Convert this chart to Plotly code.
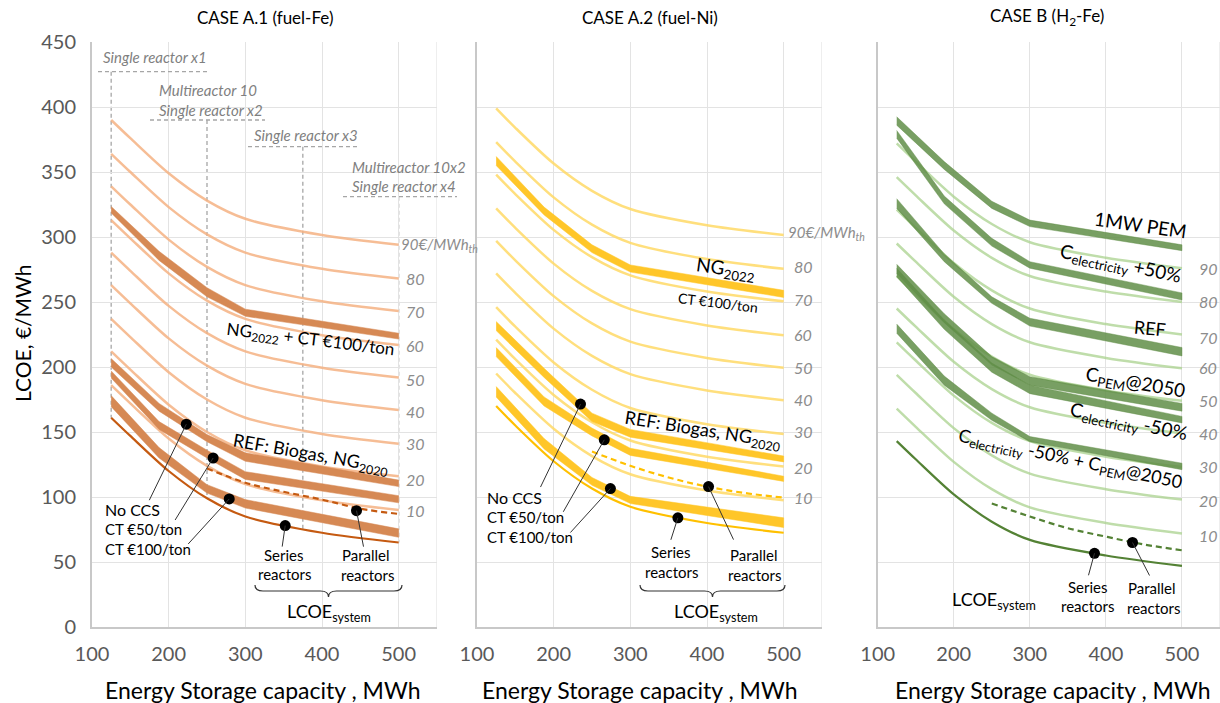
import plotly.graph_objects as go

W, H = 1220, 703

# ---------------- data ----------------
X_THIN = [125, 150, 200, 250, 300, 400, 500]
X_BAND = [125, 187.5, 250, 300, 500]
X_DASH = [250, 300, 350, 400, 450, 500]
FUEL_LEVELS = [10, 20, 30, 40, 50, 60, 70, 80, 90]
X_TICKS = [100, 200, 300, 400, 500]
Y_TICKS = [0, 50, 100, 150, 200, 250, 300, 350, 400, 450]

# CASE A.1 (fuel-Fe)
A1_SERIES = [161, 147, 120, 99, 85, 72.5, 65]
A1_FUEL = [
    [186, 172, 145, 124, 110, 97.5, 90],
    [212, 198, 171, 150, 136, 123.5, 116],
    [237, 223, 196, 175, 161, 148.5, 141],
    [263, 249, 222, 201, 187, 174.5, 167],
    [288, 274, 247, 226, 212, 199.5, 192],
    [313, 299, 272, 251, 237, 224.5, 217],
    [339, 325, 298, 277, 263, 250.5, 243],
    [364, 350, 323, 302, 288, 275.5, 268],
    [390, 376, 349, 328, 314, 301.5, 294],
]
A1_NG2022_UP = [323.5, 289, 261, 244.5, 226]
A1_NG2022_LO = [318.5, 282, 254, 239, 221.5]
A1_NOCCS_UP = [206.5, 172, 148, 134, 113]
A1_NOCCS_LO = [200, 166, 142.5, 127.5, 108]
A1_CT50_UP = [197, 158, 136, 119.5, 101]
A1_CT50_LO = [191.5, 152, 130, 113.5, 95.5]
A1_CT100_UP = [178, 138, 109.5, 98, 75.5]
A1_CT100_LO = [169.5, 130, 103, 91.5, 69]
A1_PARALLEL = [122, 111, 104, 98, 91, 87]
A1_DOT_X = [223, 258, 279, 352, 445]
A1_DOT_Y = [156, 130, 98.5, 78, 89.5]
A1_REF_X = [125, 250, 375, 500]
A1_REF_BOTTOM = [161, 99, 74, 65]

# CASE A.2 (fuel-Ni)
A2_SERIES = [170, 155, 127.5, 106.5, 92.5, 80, 72.5]
A2_FUEL = [
    [195, 180, 152.5, 131.5, 117.5, 105, 97.5],
    [221, 206, 178.5, 157.5, 143.5, 131, 123.5],
    [246, 231, 203.5, 182.5, 168.5, 156, 148.5],
    [272, 257, 229.5, 208.5, 194.5, 182, 174.5],
    [297, 282, 254.5, 233.5, 219.5, 207, 199.5],
    [322, 307, 279.5, 258.5, 244.5, 232, 224.5],
    [348, 333, 305.5, 284.5, 270.5, 258, 250.5],
    [373, 358, 330.5, 309.5, 295.5, 283, 275.5],
    [399, 384, 356.5, 335.5, 321.5, 309, 301.5],
]
A2_NG2022_UP = [362, 323, 294, 278.5, 259]
A2_NG2022_LO = [355, 317, 288, 273, 253.5]
A2_NOCCS_UP = [235, 199, 164.5, 152, 131.5]
A2_NOCCS_LO = [228, 192, 158, 146, 127]
A2_CT50_UP = [215, 177, 153, 137.5, 116]
A2_CT50_LO = [208, 170, 147, 132, 112]
A2_CT100_UP = [185, 145, 115, 100.5, 84]
A2_CT100_LO = [177, 137, 109, 95, 76.5]
A2_PARALLEL = [135, 124, 115, 108, 103, 99.5]
A2_DOT_X = [235, 266, 274, 362, 402]
A2_DOT_Y = [171.5, 144, 106.5, 84, 108]

# CASE B (H2-Fe)
B_SERIES = [143, 129, 102, 81, 67, 55, 47]
B_FUEL = [
    [168, 154, 127, 106, 92, 80, 72],
    [194, 180, 153, 132, 118, 106, 98],
    [219, 205, 178, 157, 143, 131, 123],
    [245, 231, 204, 183, 169, 157, 149],
    [270, 256, 229, 208, 194, 182, 174],
    [295, 281, 254, 233, 219, 207, 199],
    [321, 307, 280, 259, 245, 233, 225],
    [346, 332, 305, 284, 270, 258, 250],
    [372, 358, 331, 310, 296, 284, 276],
]
B_PEM1MW_UP = [392.5, 358, 327.5, 313, 294]
B_PEM1MW_LO = [386, 352, 322, 308, 289.5]
B_ELEC_P50_UP = [382, 331.5, 299, 281, 257]
B_ELEC_P50_LO = [376, 325.5, 293, 276, 251.5]
B_REF_UP = [329.5, 287, 254, 237.5, 215]
B_REF_LO = [322, 281, 249, 231.5, 208.5]
B_PEM2050_UP = [279, 241, 208, 192.5, 172]
B_PEM2050_LO = [272, 234, 201.5, 186, 166]
B_ELEC_M50_UP = [276, 236, 203, 186, 162]
B_ELEC_M50_LO = [269.5, 229, 196, 179.5, 157]
B_COMBO_UP = [233, 193, 164.5, 146.5, 126]
B_COMBO_LO = [226, 186, 159, 142.5, 121]
B_PARALLEL = [95, 85, 76, 69.5, 63.5, 59]
B_DOT_X = [385, 435]
B_DOT_Y = [56.7, 65]

FONT = "Lato"

# plot-area geometry (pixels)
Y_TOP_PX, Y_BOT_PX = 42, 627
PANEL_PX = [(92, 437), (477, 822), (877.7, 1220)]
X_MAX = 550


def X(p):
    return p / W


def Y(p):
    return 1 - p / H


fig = go.Figure()


def thin_lines(xa, ya, fuel, color):
    for vals in fuel:
        fig.add_trace(go.Scatter(x=X_THIN, y=vals, mode="lines", xaxis=xa, yaxis=ya,
                                 line=dict(color=color, width=2.5, shape="spline", smoothing=0.8),
                                 hoverinfo="skip", showlegend=False))


def band(xa, ya, up, lo, color):
    fig.add_trace(go.Scatter(x=X_BAND + X_BAND[::-1], y=up + lo[::-1], mode="lines",
                             fill="toself", fillcolor=color, line=dict(width=0.5, color=color),
                             xaxis=xa, yaxis=ya, hoverinfo="skip", showlegend=False))


def base_lines(xa, ya, series, parallel, color):
    fig.add_trace(go.Scatter(x=X_THIN, y=series, mode="lines", xaxis=xa, yaxis=ya,
                             line=dict(color=color, width=2.2, shape="spline", smoothing=0.8),
                             hoverinfo="skip", showlegend=False))
    fig.add_trace(go.Scatter(x=X_DASH, y=parallel, mode="lines", xaxis=xa, yaxis=ya,
                             line=dict(color=color, width=2.2, dash="6px,4px", shape="spline"),
                             hoverinfo="skip", showlegend=False))


def dots(xa, ya, dx, dy):
    fig.add_trace(go.Scatter(x=dx, y=dy, mode="markers", xaxis=xa, yaxis=ya,
                             marker=dict(color="black", size=11), hoverinfo="skip", showlegend=False))


# Panel 1
thin_lines("x", "y", A1_FUEL, "rgba(244,177,131,0.85)")
for up, lo in [(A1_NG2022_UP, A1_NG2022_LO), (A1_NOCCS_UP, A1_NOCCS_LO),
               (A1_CT50_UP, A1_CT50_LO), (A1_CT100_UP, A1_CT100_LO)]:
    band("x", "y", up, lo, "#d68954")
base_lines("x", "y", A1_SERIES, A1_PARALLEL, "#c55a11")

# Panel 2
thin_lines("x2", "y2", A2_FUEL, "rgba(255,217,102,0.85)")
for up, lo in [(A2_NG2022_UP, A2_NG2022_LO), (A2_NOCCS_UP, A2_NOCCS_LO),
               (A2_CT50_UP, A2_CT50_LO), (A2_CT100_UP, A2_CT100_LO)]:
    band("x2", "y2", up, lo, "#ffc629")
base_lines("x2", "y2", A2_SERIES, A2_PARALLEL, "#ffc000")

# Panel 3
thin_lines("x3", "y3", B_FUEL, "rgba(169,209,142,0.75)")
GREEN_BAND = "rgba(96,142,72,0.85)"
for up, lo in [(B_PEM1MW_UP, B_PEM1MW_LO), (B_ELEC_P50_UP, B_ELEC_P50_LO), (B_REF_UP, B_REF_LO),
               (B_PEM2050_UP, B_PEM2050_LO), (B_ELEC_M50_UP, B_ELEC_M50_LO), (B_COMBO_UP, B_COMBO_LO)]:
    band("x3", "y3", up, lo, GREEN_BAND)
base_lines("x3", "y3", B_SERIES, B_PARALLEL, "#548235")

dots("x", "y", A1_DOT_X, A1_DOT_Y)
dots("x2", "y2", A2_DOT_X, A2_DOT_Y)
dots("x3", "y3", B_DOT_X, B_DOT_Y)

# ---------------- layout ----------------
YDOM = [Y(Y_BOT_PX), Y(Y_TOP_PX)]
XDOMS = [[X(a), min(1.0, X(b))] for a, b in PANEL_PX]

axis_common = dict(range=[100, X_MAX], tickvals=X_TICKS,
                   showgrid=True, gridcolor="#e3e3e3", gridwidth=1.2, showline=True, linecolor="#c8c8c8",
                   linewidth=2, ticks="outside", ticklen=8, tickcolor="rgba(0,0,0,0)", automargin=False,
                   tickfont=dict(family=FONT, size=20, color="#595959"), zeroline=False, fixedrange=True)
yaxis_common = dict(range=[0, 450], tickvals=Y_TICKS, domain=YDOM, showgrid=True, gridcolor="#e3e3e3",
                    gridwidth=1.2, showline=True, linecolor="#c8c8c8", linewidth=2, zeroline=False,
                    ticks="outside", ticklen=10, tickcolor="rgba(0,0,0,0)", automargin=False,
                    tickfont=dict(family=FONT, size=20, color="#595959"), fixedrange=True)

fig.update_layout(
    width=W, height=H, margin=dict(l=0, r=0, t=0, b=0, autoexpand=False),
    paper_bgcolor="white", plot_bgcolor="white", showlegend=False,
    font=dict(family=FONT, color="black"),
    xaxis=dict(domain=XDOMS[0], anchor="y", **axis_common),
    xaxis2=dict(domain=XDOMS[1], anchor="y2", **axis_common),
    xaxis3=dict(domain=XDOMS[2], anchor="y3", **axis_common),
    yaxis=dict(anchor="x", showticklabels=True, **yaxis_common),
    yaxis2=dict(anchor="x2", showticklabels=False, **yaxis_common),
    yaxis3=dict(anchor="x3", showticklabels=False, **yaxis_common),
)

annotations = []
shapes = []

# right-edge gridline of each panel
for xa, ya in [("x", "y"), ("x2", "y2"), ("x3", "y3")]:
    shapes.append(dict(type="line", xref=xa, yref=ya, x0=X_MAX, x1=X_MAX, y0=0, y1=450,
                       line=dict(color="#e3e3e3", width=1.2), layer="below"))


def ann(text, x, y, size=16, color="black", angle=0, xanchor="center", yanchor="middle"):
    annotations.append(dict(text=text, x=X(x), y=Y(y), xref="paper", yref="paper", showarrow=False,
                            font=dict(family=FONT, size=size, color=color), textangle=angle,
                            xanchor=xanchor, yanchor=yanchor))


# titles
ann("CASE A.1 (fuel-Fe)", 265, 17, 17)
ann("CASE A.2 (fuel-Ni)", 650, 17, 17)
ann("CASE B (H<sub>2</sub>-Fe)", 1047, 17, 17)
ann("LCOE, €/MWh", 22, 334, 21, angle=-90)
ann("Energy Storage capacity , MWh", 262, 690, 23)
ann("Energy Storage capacity , MWh", 639, 690, 23)
ann("Energy Storage capacity , MWh", 1052, 690, 23)

GREY = "#8c8c8c"
# fuel price labels
P1_LAB_Y = [510.7, 479, 443, 411, 379, 345.7, 311.7, 278, 245]
P2_LAB_Y = [498, 467, 431, 399, 367, 334, 299, 266, 233]
P3_LAB_Y = [535, 500, 466, 433.3, 400.7, 367.5, 337.7, 301.7, 268.3]
for lvl, y1, y2, y3 in zip(FUEL_LEVELS, P1_LAB_Y, P2_LAB_Y, P3_LAB_Y):
    if lvl == 90:
        ann("<i>90€/MWh<sub>th</sub></i>", 399, y1, 15, GREY, xanchor="left")
        ann("<i>90€/MWh<sub>th</sub></i>", 786, y2, 15, GREY, xanchor="left")
    else:
        ann(f"<i>{lvl}</i>", 404, y1, 16, GREY, xanchor="left")
        ann(f"<i>{lvl}</i>", 792, y2, 16, GREY, xanchor="left")
    ann(f"<i>{lvl}</i>", 1197, y3, 16, GREY, xanchor="left")

# reactor configuration labels (panel 1)
for txt, x, y in [("Single reactor x1", 101, 57), ("Multireactor 10", 157, 90), ("Single reactor x2", 157, 110),
                  ("Single reactor x3", 252, 135), ("Multireactor 10x2", 350, 166.7),
                  ("Single reactor x4", 350, 186)]:
    ann(f"<i>{txt}</i>", x, y, 15, "#7f7f7f", xanchor="left")
for x0, x1, y in [(98, 210, 71.7), (150, 265, 120), (248, 360, 146.7), (343, 457, 196.7)]:
    shapes.append(dict(type="line", xref="paper", yref="paper", x0=X(x0), x1=X(x1), y0=Y(y), y1=Y(y),
                       line=dict(color="#a6a6a6", width=1.3, dash="4px,3px")))
PX_PER_Y = (Y_BOT_PX - Y_TOP_PX) / 450.0
for xv, top_px, bot in zip(A1_REF_X, [71.7, 120, 146.7, 196.7], A1_REF_BOTTOM):
    shapes.append(dict(type="line", xref="x", yref="y", x0=xv, x1=xv, y0=(Y_BOT_PX - top_px) / PX_PER_Y,
                       y1=bot, line=dict(color="#a6a6a6", width=1.3, dash="4px,3px"), layer="below"))

# curve labels panel 1
ann("NG<sub>2022</sub> + CT €100/ton", 310, 340, 17, angle=7)
ann("REF: Biogas, NG<sub>2020</sub>", 311, 454, 18, angle=10)
ann("No CCS", 103, 509, 16, xanchor="left")
ann("CT €50/ton", 103, 529, 15, xanchor="left")
ann("CT €100/ton", 103, 549, 15, xanchor="left")
ann("Series", 284, 555, 15)
ann("reactors", 284, 574, 15)
ann("Parallel", 366, 555, 15)
ann("reactors", 367, 575, 15)
ann("LCOE<sub>system</sub>", 329, 612, 18)

# curve labels panel 2
ann("NG<sub>2022</sub>", 725, 269, 19, angle=8)
ann("CT €100/ton", 718, 302, 14, angle=7)
ann("REF: Biogas, NG<sub>2020</sub>", 703, 430, 18, angle=9)
ann("No CCS", 485, 497, 16, xanchor="left")
ann("CT €50/ton", 485, 517, 15, xanchor="left")
ann("CT €100/ton", 485, 537, 15, xanchor="left")
ann("Series", 671, 552, 15)
ann("reactors", 671, 571.5, 15)
ann("Parallel", 754, 555, 15)
ann("reactors", 754, 574.5, 15)
ann("LCOE<sub>system</sub>", 716, 612, 18)

# curve labels panel 3
ann("1MW PEM", 1140, 225, 19, angle=8)
ann("C<sub>electricity</sub> +50%", 1120, 264, 19, angle=12)
ann("REF", 1150, 328, 18, angle=5)
ann("C<sub>PEM</sub>@2050", 1135, 383, 19, angle=10)
ann("C<sub>electricity</sub> -50%", 1128, 422, 19, angle=12)
ann("C<sub>electricity</sub> -50% + C<sub>PEM</sub>@2050", 1070, 460, 18, angle=12)
ann("Series", 1088, 587, 15)
ann("reactors", 1087, 606, 15)
ann("Parallel", 1152, 588, 15)
ann("reactors", 1153, 607.5, 15)
ann("LCOE<sub>system</sub>", 994, 600, 18)

# leader lines from dots (offsets in pixels)
LEADERS = [
    ("x", "y", 0, A1_DOT_X, A1_DOT_Y, [(-37, 76), (-38, 62), (-41, 45), (-3, 21), (7, 36)]),
    ("x2", "y2", 1, A2_DOT_X, A2_DOT_Y, [(-40, 83), (-41, 72), (-40, 44), (-7, 22), (25, 53)]),
    ("x3", "y3", 2, B_DOT_X, B_DOT_Y, [(-6, 22), (17, 33)]),
]
for xa, ya, pi, dx, dy, offs in LEADERS:
    a, b = PANEL_PX[pi]
    px_per_x = (b - a) / 450.0
    for xv, yv, (ox, oy) in zip(dx, dy, offs):
        shapes.append(dict(type="line", xref=xa, yref=ya, x0=xv, y0=yv, x1=xv + ox / px_per_x,
                           y1=yv - oy / PX_PER_Y, line=dict(color="#333333", width=1)))


def brace(x0, x1, ytop, ytip, r=8):
    ymid = (ytop + ytip) / 2
    xm = (x0 + x1) / 2
    p = (f"M{X(x0)},{Y(ytop)} Q{X(x0)},{Y(ymid)} {X(x0 + r)},{Y(ymid)} L{X(xm - r)},{Y(ymid)} "
         f"Q{X(xm)},{Y(ymid)} {X(xm)},{Y(ytip)} Q{X(xm)},{Y(ymid)} {X(xm + r)},{Y(ymid)} "
         f"L{X(x1 - r)},{Y(ymid)} Q{X(x1)},{Y(ymid)} {X(x1)},{Y(ytop)}")
    shapes.append(dict(type="path", path=p, xref="paper", yref="paper", line=dict(color="#333333", width=1.2)))


brace(255, 402, 585, 597)
brace(640, 785, 585, 597)

fig.update_layout(annotations=annotations, shapes=shapes)
fig.write_html("out.html")
